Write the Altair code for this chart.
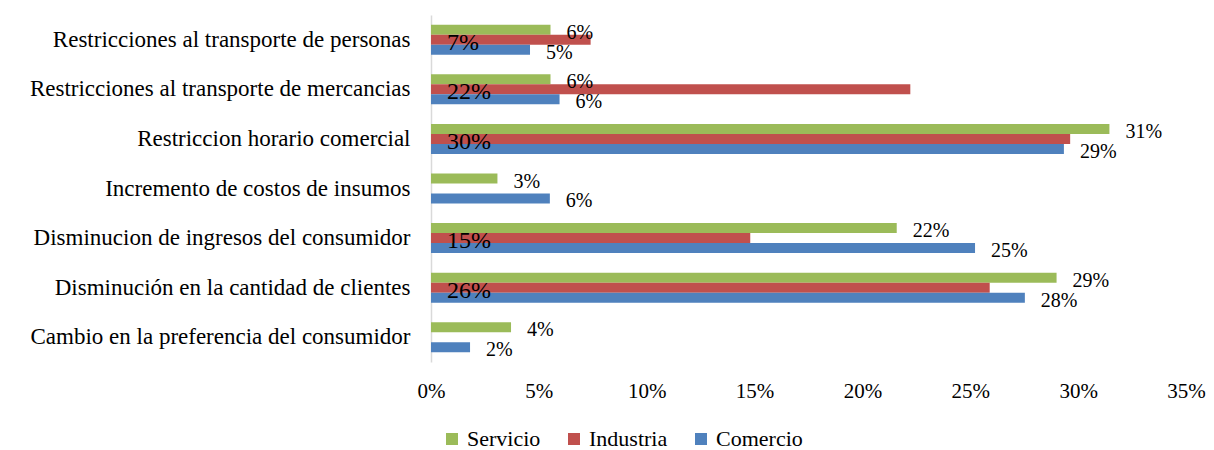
import altair as alt
import pandas as pd

categories = [
    "Restricciones al transporte de personas",
    "Restricciones al transporte de mercancias",
    "Restriccion horario comercial",
    "Incremento de costos de insumos",
    "Disminucion de ingresos del consumidor",
    "Disminución en la cantidad de clientes",
    "Cambio en la preferencia del consumidor",
]
series = ["Servicio", "Industria", "Comercio"]
colors = ["#9BBB59", "#C0504D", "#4F81BD"]

servicio = [5.54, 5.54, 31.45, 3.08, 21.59, 29.0, 3.71]
industria = [7.40, 22.22, 29.63, None, 14.80, 25.9, None]
comercio = [4.59, 5.96, 29.34, 5.51, 25.22, 27.53, 1.81]

x_ticks = [0, 5, 10, 15, 20, 25, 30, 35]

rows = []
for s, vals in zip(series, [servicio, industria, comercio]):
    for c, v in zip(categories, vals):
        if v is not None:
            rows.append({"cat": c, "serie": s, "val": v})
df = pd.DataFrame(rows)

FONT = "'Liberation Serif', 'Times New Roman', serif"

y_enc = alt.Y(
    "cat:N",
    sort=categories,
    title=None,
    scale=alt.Scale(paddingInner=0.395, paddingOuter=0.1975),
    axis=alt.Axis(
        labelFont=FONT, labelFontSize=23, labelColor="black", ticks=False,
        domainColor="#D9D9D9", domainWidth=1.5, labelPadding=21, labelLimit=500,
    ),
)
yoff_enc = alt.YOffset(
    "serie:N", sort=series,
    scale=alt.Scale(domain=series, paddingInner=0, paddingOuter=0),
)
x_enc = alt.X(
    "val:Q",
    title=None,
    scale=alt.Scale(domain=[0, 35], nice=False),
    axis=alt.Axis(
        values=x_ticks, labelExpr="datum.value + '%'", grid=False, domain=False,
        ticks=False, labelFont=FONT, labelFontSize=21, labelColor="black",
        labelPadding=18, labelFlush=False, labelOverlap=False,
    ),
)

base = alt.Chart(df).transform_calculate(
    lab="format(datum.val, '.0f') + '%'"
)

bars = base.mark_bar().encode(
    y=y_enc,
    yOffset=yoff_enc,
    x=x_enc,
    color=alt.Color(
        "serie:N",
        scale=alt.Scale(domain=series, range=colors),
        legend=alt.Legend(
            title=None, orient="none", legendX=10, legendY=413,
            direction="horizontal", symbolType="square", symbolSize=144,
            symbolStrokeWidth=0, labelFont=FONT, labelFontSize=22,
            labelColor="black", columnPadding=22, labelOffset=4, padding=0,
        ),
    ),
)

outer = base.transform_filter(
    alt.FieldOneOfPredicate(field="serie", oneOf=["Servicio", "Comercio"])
).mark_text(
    align="left", baseline="middle", dx=16, dy=3, font=FONT, fontSize=20, color="black"
).encode(
    y=alt.Y("cat:N", sort=categories),
    yOffset=alt.YOffset("serie:N", sort=series),
    x=alt.X("val:Q"),
    text="lab:N",
)

inner = base.transform_filter(
    alt.datum.serie == "Industria"
).mark_text(
    align="left", baseline="middle", dy=3, font=FONT, fontSize=24, color="black"
).encode(
    y=alt.Y("cat:N", sort=categories),
    yOffset=alt.YOffset("serie:N", sort=series),
    x=alt.value(16),
    text="lab:N",
)

chart = alt.layer(bars, outer, inner).properties(
    width=755,
    height=347,
    autosize=alt.AutoSizeParams(type="none"),
    padding={"left": 423, "top": 7, "right": 20, "bottom": 96},
).configure(background="white").configure_view(stroke=None)

chart.save("out.html", embed_options={"renderer": "svg", "actions": False})
